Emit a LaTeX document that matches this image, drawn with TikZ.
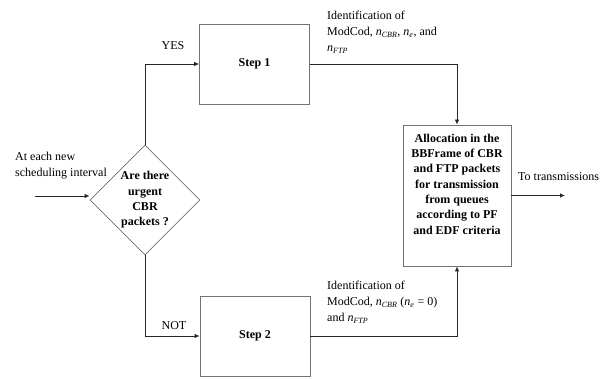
\documentclass[tikz,border=0pt]{standalone}
\usepackage{fontspec}
\setmainfont{Liberation Serif}
\usetikzlibrary{shapes.geometric,arrows.meta}
\begin{document}
\begin{tikzpicture}[x=1pt,y=-1pt,
  box/.style={draw=black!55, line width=0.8pt, minimum width=110pt, minimum height=80pt, inner sep=0pt},
  conn/.style={draw=black!85, line width=0.8pt},
  arr/.style={conn, -{Latex[length=5pt,width=4.5pt]}},
  txt/.style={font=\fontsize{12}{16}\selectfont, inner sep=0pt},
  btxt/.style={font=\fontsize{12}{15.3}\selectfont\bfseries, align=center, inner sep=0pt}]
\useasboundingbox (0,0) rectangle (613,379);
% decision
\node[diamond, draw=black!55, line width=0.8pt, minimum width=110pt, minimum height=110pt,
      inner sep=0pt, btxt] (dia) at (145,200) {Are there\\urgent\\CBR\\packets ?};
% steps
\node[box, btxt] (s1) at (254.5,64) {Step 1};
\node[box, btxt] (s2) at (255,336) {Step 2};
% allocation box
\node[box, minimum width=108pt, minimum height=141pt,
      label={[btxt, yshift=11.5pt]center:Allocation in the\\BBFrame of CBR\\and FTP packets\\for transmission\\from queues\\according to PF\\and EDF criteria}]
      (big) at (457,195.5) {};
% free ends
\coordinate (in) at (35,196);
\coordinate (out) at (565,195.5);
% connectors
\draw[arr] (in) -- (in -| dia.west);
\draw[arr] (dia.north) |- (s1.west);
\draw[arr] (dia.south) |- (s2.west);
\draw[arr] (s1.east) -| (big.north);
\draw[arr] (s2.east) -| (big.south);
\draw[arr] (big.east) -- (out);
% labels
\node[txt, align=left, anchor=north west] (lin) at (15,152) {At each new\\scheduling interval};
\node[txt] (lyes) at (173,46) {YES};
\node[txt] (lnot) at (174,326) {NOT};
\node[txt, align=left, anchor=north west] (ltop) at (327,11)
  {Identification of\\ModCod, {\itshape n}\textsubscript{\itshape CBR}, {\itshape n}\textsubscript{\itshape e}, and\\{\itshape n}\textsubscript{\itshape FTP}};
\node[txt, align=left, anchor=north west] (lbot) at (327,281)
  {Identification of\\ModCod, {\itshape n}\textsubscript{\itshape CBR} ({\itshape n}\textsubscript{\itshape e} = 0)\\and {\itshape n}\textsubscript{\itshape FTP}};
\node[txt, anchor=west] (lout) at (518,177) {To transmissions};
\end{tikzpicture}
\end{document}
